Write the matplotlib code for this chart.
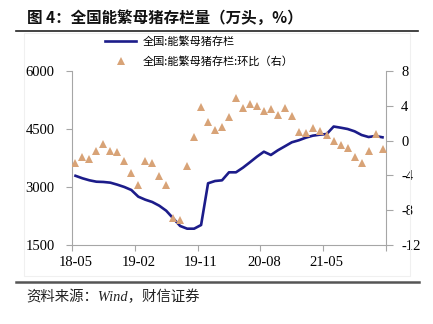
import matplotlib
matplotlib.use("Agg")
import matplotlib.pyplot as plt
from matplotlib.lines import Line2D
from matplotlib.patches import Rectangle
import numpy as np
import pandas as pd

plt.rcParams["axes.unicode_minus"] = False

# Monthly series, 2018-05 .. 2022-01
months = pd.period_range("2018-05", periods=45, freq="M")
sow_stock = [3290, 3225, 3173, 3137, 3130, 3112, 3060, 3000, 2923, 2750,
             2672, 2612, 2517, 2387, 2190, 1992, 1922, 1922, 2017, 3096,
             3155, 3173, 3380, 3380, 3500, 3640, 3784, 3913, 3828, 3949,
             4052, 4156, 4208, 4275, 4327, 4353, 4370, 4564, 4534, 4500,
             4440, 4345, 4293, 4319, 4285]
sow_mom = [-2.6, -1.9, -2.1, -1.2, -0.35, -1.2, -1.35, -2.35, -3.7, -5.1,
           -2.35, -2.6, -4.1, -5.1, -8.85, -9.1, -2.9, 0.45, 3.9, 2.15,
           1.2, 1.6, 2.7, 4.9, 3.8, 4.25, 4.0, 3.4, 3.6, 3.0,
           3.7, 2.85, 1.0, 0.9, 1.5, 1.05, 0.7, -0.05, -0.5, -0.9,
           -1.85, -2.6, -1.2, 0.75, -0.95]
label_step = 9
left_ticks = [1500, 3000, 4500, 6000]
right_ticks = [-12, -8, -4, 0, 4, 8]

title = "图 4：全国能繁母猪存栏量（万头，%）"
name_stock = "全国:能繁母猪存栏"
name_mom = "全国:能繁母猪存栏:环比（右）"
source = "资料来源：Wind，财信证券"

LINE_C = "#1c1c8a"
TRI_C = "#d8a377"
AX_C = "#a6a6a6"
NUM_FONT = ["Liberation Serif", "DejaVu Serif"]
CJK = ["Noto Sans CJK SC", "DejaVu Sans"]

W, H = 433, 324
fig = plt.figure(figsize=(W / 100, H / 100), dpi=100)

def fx(px):
    return px / W

def fy(py):
    return 1 - py / H

# faint chart-area frame
fig.add_artist(Rectangle((fx(24), fy(276)), fx(410) - fx(24), fy(33) - fy(276),
                         transform=fig.transFigure, fill=False,
                         edgecolor="#f0f0f0", linewidth=0.8))

ax = fig.add_axes([fx(72), fy(245), fx(386) - fx(72), fy(71) - fy(245)])
ax2 = ax.twinx()

x = np.arange(len(months))
ax.plot(x, sow_stock, color=LINE_C, linewidth=1.9, solid_joinstyle="round",
        zorder=3)
ax2.plot(x, sow_mom, linestyle="none", marker="^", markersize=6,
         color=TRI_C, markeredgewidth=0, zorder=4)

ax.set_xlim(-0.5, len(months) - 0.5)
ax.set_ylim(left_ticks[0], left_ticks[-1])
ax2.set_ylim(right_ticks[0], right_ticks[-1])
ax.set_yticks(left_ticks)
ax2.set_yticks(right_ticks)
ax.set_yticklabels([str(v) for v in left_ticks])
ax2.set_yticklabels([str(v) for v in right_ticks])

lab_pos = x[::label_step]
ax.set_xticks(lab_pos)
ax.set_xticklabels([m.strftime("%y-%m") for m in months[::label_step]])
ax.set_xticks(np.arange(-0.5, len(months), label_step), minor=True)
ax.tick_params(axis="x", which="major", length=0, pad=8)
ax.tick_params(axis="x", which="minor", length=4, color=AX_C, width=0.8,
               direction="out")
ax.tick_params(axis="y", length=4, color=AX_C, width=0.8, pad=8.5)
ax2.tick_params(axis="y", length=5, color=AX_C, width=0.8, pad=5.8)

for a in (ax, ax2):
    for s in a.spines.values():
        s.set_visible(False)
    for lbl in a.get_xticklabels() + a.get_yticklabels():
        lbl.set_fontfamily(NUM_FONT)
        lbl.set_fontsize(10.5)
        lbl.set_color("#000000")
ax.spines["left"].set_visible(True)
ax.spines["left"].set_color(AX_C)
ax.spines["bottom"].set_visible(True)
ax.spines["bottom"].set_color(AX_C)
ax2.spines["right"].set_visible(True)
ax2.spines["right"].set_color(AX_C)
for s in ("left", "bottom"):
    ax.spines[s].set_linewidth(0.8)
ax2.spines["right"].set_linewidth(0.8)

handles = [Line2D([], [], color=LINE_C, linewidth=1.9),
           Line2D([], [], linestyle="none", marker="^", markersize=6,
                  color=TRI_C, markeredgewidth=0)]
fig.legend(handles, [name_stock, name_mom], loc="upper left",
           bbox_to_anchor=(fx(105), fy(36.5)), bbox_transform=fig.transFigure,
           frameon=False, borderpad=0, borderaxespad=0, handlelength=2.8,
           handletextpad=0.55, labelspacing=0.85,
           prop={"family": CJK, "size": 8})

fig.text(fx(27), fy(18), title, fontsize=11.2, fontweight="bold",
         family=CJK, va="center", ha="left", color="#111111")
fig.add_artist(Line2D([fx(16), fx(418)], [fy(30.5), fy(30.5)],
                      transform=fig.transFigure, color="#222222",
                      linewidth=1.2))
fig.add_artist(Line2D([fx(16), fx(419)], [fy(282), fy(282)],
                      transform=fig.transFigure, color="#555555",
                      linewidth=1.8))
fig.text(fx(26), fy(297), source, fontsize=10.4, style="italic",
         family=["Liberation Serif", "Noto Sans CJK SC"], va="center",
         ha="left", color="#222222")

fig.savefig("out.png", dpi=100)
